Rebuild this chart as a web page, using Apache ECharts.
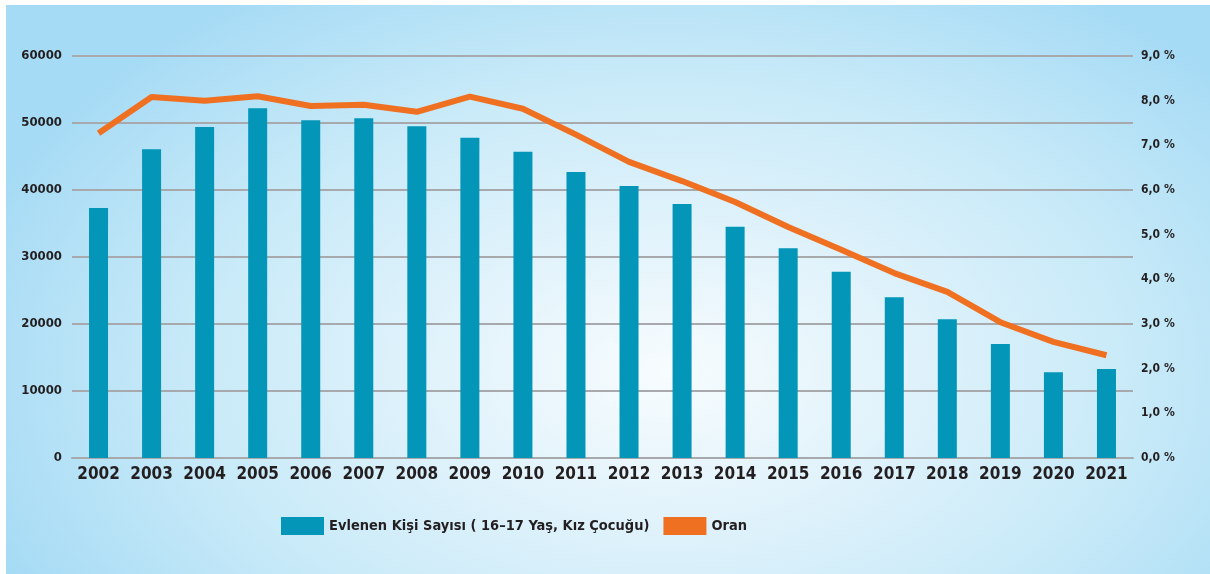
<!DOCTYPE html>
<html>
<head>
<meta charset="utf-8">
<script src="https://cdn.jsdelivr.net/npm/echarts@6/dist/echarts.min.js"></script>
<style>
html,body{margin:0;padding:0;background:#fff;}
#chart{width:1210px;height:574px;
background:
 linear-gradient(#fff,#fff) top left/100% 5px no-repeat,
 linear-gradient(#fff,#fff) top left/6px 100% no-repeat,
 radial-gradient(ellipse 60% 80% at 55% 65%, #f7fcfe 0%, #e2f3fb 30%, #c8eaf8 65%, #a6dbf5 100%);
}
</style>
</head>
<body>
<div id="chart"></div>
<script>
const years = ['2002','2003','2004','2005','2006','2007','2008','2009','2010','2011','2012','2013','2014','2015','2016','2017','2018','2019','2020','2021'];
const marriedCount = [37300,46100,49400,52200,50400,50700,49500,47800,45700,42700,40600,37900,34500,31300,27800,24000,20700,17000,12800,13300];
const ratePercent = [7.27,8.08,8.00,8.10,7.88,7.91,7.75,8.09,7.82,7.24,6.63,6.20,5.73,5.17,4.66,4.14,3.72,3.04,2.60,2.30];
const seriesNames = ['Evlenen Kişi Sayısı ( 16–17 Yaş, Kız Çocuğu)','Oran'];

const TXT = '#231f20';
const FF = '"DejaVu Sans"';
const FW = 'bold condensed';
const chart = echarts.init(document.getElementById('chart'), null, {renderer:'canvas'});
chart.setOption({
  backgroundColor:'transparent',
  animation:false,
  legend:{
    left:281, top:517, padding:0,
    itemWidth:43, itemHeight:18, itemGap:14,
    textStyle:{fontFamily:FF,fontSize:14.5,fontWeight:FW,color:TXT},
    data:[{name:seriesNames[0],icon:'rect'},{name:seriesNames[1],icon:'rect'}]
  },
  grid:{left:72,right:77,top:56,bottom:116},
  xAxis:{
    type:'category', data:years,
    axisLine:{lineStyle:{color:'#a7a9ac',width:2}},
    axisTick:{show:false},
    axisLabel:{fontFamily:FF,fontSize:17,fontWeight:FW,color:TXT,margin:8,interval:0}
  },
  yAxis:[
    {type:'value',min:0,max:60000,interval:10000,
     axisLine:{show:false},axisTick:{show:false},
     splitLine:{lineStyle:{color:'#a7a9ac',width:2}},
     axisLabel:{fontFamily:FF,fontSize:13,fontWeight:FW,color:TXT,margin:10,
       formatter:v=>String(v)}},
    {type:'value',min:0,max:9,interval:1,
     axisLine:{show:false},axisTick:{show:false},splitLine:{show:false},
     axisLabel:{fontFamily:FF,fontSize:12,fontWeight:FW,color:TXT,margin:8,
       formatter:v=>v.toFixed(1).replace('.',',')+' %'}}
  ],
  series:[
    {name:seriesNames[0],type:'bar',data:marriedCount,barWidth:19,
     itemStyle:{color:'#0396b9'}},
    {name:seriesNames[1],type:'line',yAxisIndex:1,data:ratePercent,
     symbol:'none',lineStyle:{color:'#f07022',width:6},itemStyle:{color:'#f07022'}}
  ]
});
</script>
</body>
</html>
